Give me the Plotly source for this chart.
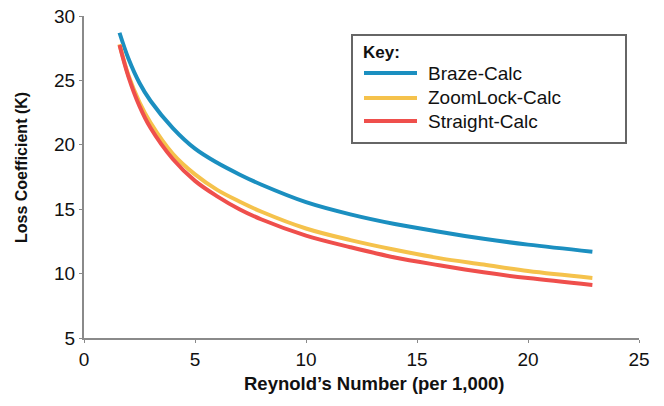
import plotly.graph_objects as go

# Reynolds number (per 1,000) sample points
re_x = [1.6, 2, 2.5, 3, 4, 5, 6, 7, 8, 10, 12, 14, 16, 18, 20, 22.9]
braze = [28.7, 26.7, 24.8, 23.4, 21.3, 19.7, 18.6, 17.7, 16.9, 15.55, 14.6, 13.85, 13.25, 12.7, 12.25, 11.7]
zoomlock = [27.8, 25.4, 23.3, 21.7, 19.3, 17.7, 16.5, 15.6, 14.8, 13.5, 12.6, 11.85, 11.2, 10.7, 10.2, 9.66]
straight = [27.75, 25.3, 23.0, 21.3, 18.9, 17.2, 16.0, 15.0, 14.2, 12.95, 12.05, 11.25, 10.65, 10.1, 9.65, 9.12]

series_names = ["Braze-Calc", "ZoomLock-Calc", "Straight-Calc"]
series_vals = [braze, zoomlock, straight]
colors = ["#1b8fc0", "#f5c24c", "#ef4f4c"]

x_ticks = [0, 5, 10, 15, 20, 25]
y_ticks = [5, 10, 15, 20, 25, 30]

FONT = "Liberation Sans, Arial, sans-serif"

W, H = 664, 406
L, R, T, B = 84, 25, 16, 68
PW, PH = W - L - R, H - T - B


def px_x(p):
    return (p - L) / PW


def px_y(p):
    return 1 - (p - T) / PH


fig = go.Figure()
for name, vals, c in zip(series_names, series_vals, colors):
    fig.add_trace(go.Scatter(x=re_x, y=vals, mode="lines", name=name,
                             line=dict(color=c, width=4, shape="spline")))

shapes = [dict(type="rect", xref="paper", yref="paper",
               x0=px_x(352), x1=px_x(626), y0=px_y(143), y1=px_y(35),
               line=dict(color="#666", width=2), fillcolor="rgba(0,0,0,0)")]
annotations = [
    dict(text="<b>Key:</b>", xref="paper", yref="paper",
         x=px_x(361), y=px_y(52), xanchor="left", yanchor="middle",
         showarrow=False, font=dict(size=17, family=FONT, color="#111")),
    dict(text="<b>Reynold’s Number (per 1,000)</b>", xref="paper", yref="paper",
         x=px_x(374), y=px_y(383), xanchor="center", yanchor="middle",
         showarrow=False, font=dict(size=18.5, family=FONT, color="#111")),
    dict(text="<b>Loss Coefficient (K)</b>", xref="paper", yref="paper",
         x=px_x(21), y=px_y(168), xanchor="center", yanchor="middle", textangle=-90,
         showarrow=False, font=dict(size=16, family=FONT, color="#111")),
]
row_y = [73, 98, 121]
for name, c, ry in zip(series_names, colors, row_y):
    shapes.append(dict(type="line", xref="paper", yref="paper",
                       x0=px_x(364), x1=px_x(417), y0=px_y(ry), y1=px_y(ry),
                       line=dict(color=c, width=4)))
    annotations.append(dict(text=name, xref="paper", yref="paper",
                            x=px_x(426), y=px_y(ry), xanchor="left", yanchor="middle",
                            showarrow=False, font=dict(size=19, family=FONT, color="#111")))

fig.update_layout(
    width=W, height=H, autosize=False,
    margin=dict(l=L, r=R, t=T, b=B),
    paper_bgcolor="white", plot_bgcolor="white",
    font=dict(family=FONT, color="#111", size=18),
    showlegend=False,
    xaxis=dict(
        range=[0, 25], tickvals=x_ticks, showgrid=False, zeroline=False,
        showline=True, linecolor="#8a8a8a", linewidth=2,
        ticks="outside", ticklen=3, tickcolor="#8a8a8a",
        tickfont=dict(size=19, family=FONT, color="#111"), automargin=False,
    ),
    yaxis=dict(
        range=[5, 30], tickvals=y_ticks, showgrid=False, zeroline=False,
        showline=True, linecolor="#8a8a8a", linewidth=2,
        ticks="outside", ticklen=3, tickcolor="#8a8a8a",
        tickfont=dict(size=19, family=FONT, color="#111"), automargin=False,
    ),
    shapes=shapes,
    annotations=annotations,
)

fig.write_html("out.html", config={"displayModeBar": False},
               post_script="document.body.style.margin='0px';document.body.style.overflow='hidden';")
